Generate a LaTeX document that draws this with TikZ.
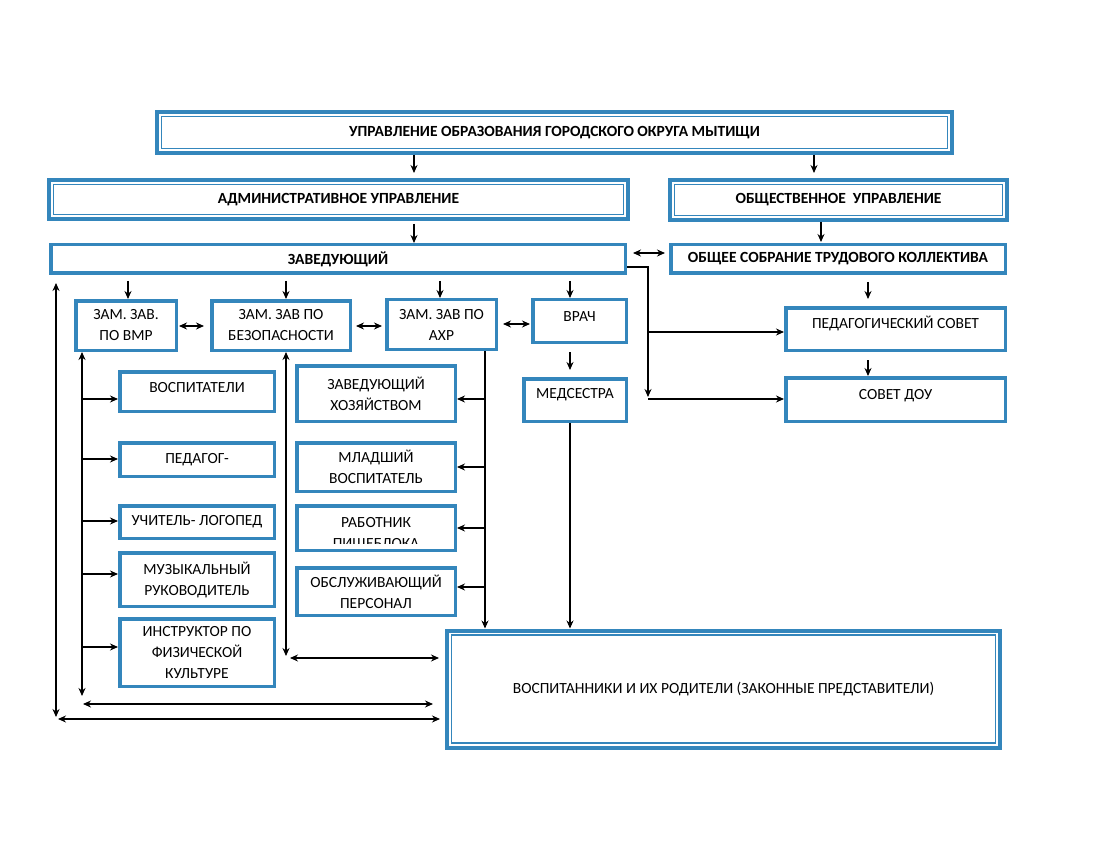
\documentclass[tikz,border=0pt]{standalone}
\usepackage{fontspec}
\setmainfont{Carlito}
\usetikzlibrary{arrows.meta}
\definecolor{orgblue}{RGB}{52,134,188}
\tikzset{
  box/.style={draw=orgblue, line width=3.5pt, fill=white, align=center, inner sep=2pt,
    font=\fontsize{15.5}{21}\selectfont},
  headbox/.style={box, font=\fontsize{15.5}{21}\selectfont\bfseries},
  dbox/.style={headbox, line width=4pt},
  lift/.style={text height=11pt, text depth=#1},
  innerline/.style={draw=orgblue, line width=1.2pt},
  arr/.style={-{Stealth[length=8pt,width=7pt]}, line width=1.1pt},
  darr/.style={{Stealth[length=8pt,width=7pt]}-{Stealth[length=8pt,width=7pt]}, line width=1.1pt},
}
\begin{document}
\begin{tikzpicture}[x=1pt, y=-1pt]
\useasboundingbox (0,0) rectangle (1100,850);

% management
\node[dbox, minimum width=795pt, minimum height=41pt] (upr) at (554.5,132.5) {УПРАВЛЕНИЕ ОБРАЗОВАНИЯ ГОРОДСКОГО ОКРУГА МЫТИЩИ};
\node[dbox, minimum width=579pt, minimum height=39pt] (adm) at (338.5,199.5) {АДМИНИСТРАТИВНОЕ УПРАВЛЕНИЕ};
\node[dbox, minimum width=337pt, minimum height=40pt] (obsh) at (838.5,200) {ОБЩЕСТВЕННОЕ~ УПРАВЛЕНИЕ};
\node[headbox, minimum width=574.5pt, minimum height=28.5pt] (zav) at (338,259) {ЗАВЕДУЮЩИЙ};
\node[headbox, minimum width=334.5pt, minimum height=28.5pt] (sobr) at (838,259) {ОБЩЕЕ СОБРАНИЕ ТРУДОВОГО КОЛЛЕКТИВА};

% deputies
\node[box, minimum width=100.5pt, minimum height=49.5pt] (vmr) at (126,325.5) {ЗАМ. ЗАВ.\\ПО ВМР};
\node[box, minimum width=138.5pt, minimum height=49.5pt] (bez) at (281,325.5) {ЗАМ. ЗАВ ПО\\БЕЗОПАСНОСТИ};
\node[box, minimum width=109.5pt, minimum height=49.5pt] (ahr) at (441.5,324.5) {ЗАМ. ЗАВ ПО\\АХР};
\node[box, lift=11pt, minimum width=93.5pt, minimum height=42.5pt] (vrach) at (579.5,321) {ВРАЧ};
\node[box, lift=15pt, minimum width=102.5pt, minimum height=42.5pt] (med) at (575,400) {МЕДСЕСТРА};

% councils
\node[box, lift=13pt, minimum width=219.5pt, minimum height=42.5pt] (ps) at (895.5,329) {ПЕДАГОГИЧЕСКИЙ СОВЕТ};
\node[box, lift=12pt, minimum width=219.5pt, minimum height=43.5pt] (sovet) at (895.5,399.5) {СОВЕТ ДОУ};

% teaching staff
\node[box, lift=10pt, minimum width=154.5pt, minimum height=39.5pt] (vosp) at (197,391.5) {ВОСПИТАТЕЛИ};
\node[box, minimum width=154.5pt, minimum height=33.5pt] (pedag) at (197,459.5) {ПЕДАГОГ-};
\node[box, minimum width=154.5pt, minimum height=32.5pt] (logo) at (197,522) {УЧИТЕЛЬ- ЛОГОПЕД};
\node[box, minimum width=154.5pt, minimum height=53.5pt] (muz) at (197,579.5) {МУЗЫКАЛЬНЫЙ\\РУКОВОДИТЕЛЬ};
\node[box, minimum width=154.5pt, minimum height=67.5pt] (fiz) at (197,652.5) {ИНСТРУКТОР ПО\\ФИЗИЧЕСКОЙ\\КУЛЬТУРЕ};

% support staff
\node[box, minimum width=158.5pt, minimum height=55.5pt] (zavhoz) at (376,393.5) {ЗАВЕДУЮЩИЙ\\ХОЗЯЙСТВОМ};
\node[box, minimum width=158.5pt, minimum height=48.5pt] (mlad) at (376,467) {МЛАДШИЙ\\ВОСПИТАТЕЛЬ};
\node[box, minimum width=158.5pt, minimum height=44.5pt,
  path picture={\clip (path picture bounding box.north west) rectangle ([yshift=7pt]path picture bounding box.south east);
    \node[draw=none, fill=none, inner sep=0pt, align=center, font=\fontsize{15.5}{21}\selectfont]
    (rabtext) at ([yshift=-6pt]path picture bounding box.center) {РАБОТНИК\\ПИЩЕБЛОКА};}] (rab) at (376,528) {};
\node[box, minimum width=158.5pt, minimum height=47.5pt] (obsl) at (376,591.5) {ОБСЛУЖИВАЮЩИЙ\\ПЕРСОНАЛ};

% pupils
\node[dbox, font=\fontsize{15.5}{21}\selectfont, minimum width=553pt, minimum height=117pt] (vospit) at (723.5,689) {ВОСПИТАННИКИ И ИХ РОДИТЕЛИ (ЗАКОННЫЕ ПРЕДСТАВИТЕЛИ)};

\foreach \n in {upr, adm, obsh, vospit}
  \draw[innerline] ([xshift=6.5pt,yshift=-6.5pt]\n.north west) rectangle ([xshift=-6.5pt,yshift=6.5pt]\n.south east);

% links between levels
\draw[arr, shorten >=5pt] (414,0 |- upr.south) -- (414,0 |- adm.north);
\draw[arr, shorten >=5pt] (814,0 |- upr.south) -- (814,0 |- obsh.north);
\draw[arr, shorten <=3pt] (414,0 |- adm.south) -- (414,0 |- zav.north);
\draw[arr, shorten >=1pt] (821,0 |- obsh.south) -- (821,0 |- sobr.north);
\draw[darr, shorten <=6pt, shorten >=4pt] (zav.east |- 0,253) -- (sobr.west |- 0,253);
\foreach \n/\x in {vmr/128, bez/286, ahr/440, vrach/570}
  \draw[arr, shorten <=6pt] (\x,0 |- zav.south) -- (\x,0 |- \n.north);
\draw[darr, shorten <=1pt, shorten >=6pt] (vmr.east |- 0,326) -- (bez.west |- 0,326);
\draw[darr, shorten <=4pt, shorten >=3pt] (bez.east |- 0,326) -- (ahr.west |- 0,326);
\draw[darr, shorten <=5pt, shorten >=1pt] (ahr.east |- 0,324) -- (vrach.west |- 0,324);
\draw[arr, shorten <=8pt, shorten >=7pt] (570,0 |- vrach.south) -- (570,0 |- med.north);
\draw[arr, shorten <=7pt, shorten >=7pt] (868,0 |- sobr.south) -- (868,0 |- ps.north);
\draw[arr, shorten <=8pt] (868,0 |- ps.south) -- (868,0 |- sovet.north);

% head to councils
\draw[arr] (zav.east |- 0,267) -| (648,397);
\draw[arr] (648,332) -- (ps.west |- 0,332);
\draw[arr] (648,399) -- (sovet.west |- 0,399);

% support staff
\draw[arr] (485,0 |- ahr.south) -- (485,0 |- vospit.north);
\foreach \n/\y in {zavhoz/399, mlad/467, rab/528, obsl/587}
  \draw[arr] (485,\y) -- (\n.east |- 0,\y);
\draw[arr] (570,0 |- med.south) -- (570,0 |- vospit.north);

% teaching staff
\draw[darr] (82,0 |- vmr.south) -- (82,696);
\foreach \n/\y in {vosp/399, pedag/459, logo/521, muz/574, fiz/647}
  \draw[arr] (82,\y) -- (\n.west |- 0,\y);
\draw[darr, shorten >=12pt] (83,704) -- (vospit.west |- 0,704);
\draw[darr] (286,0 |- bez.south) -- (286,656);
\draw[darr, shorten >=6pt] (290,658) -- (vospit.west |- 0,658);
\draw[darr, shorten <=8pt] (56,0 |- zav.south) -- (56,717);
\draw[darr, shorten >=5pt] (58,719) -- (vospit.west |- 0,719);
\end{tikzpicture}
\end{document}
